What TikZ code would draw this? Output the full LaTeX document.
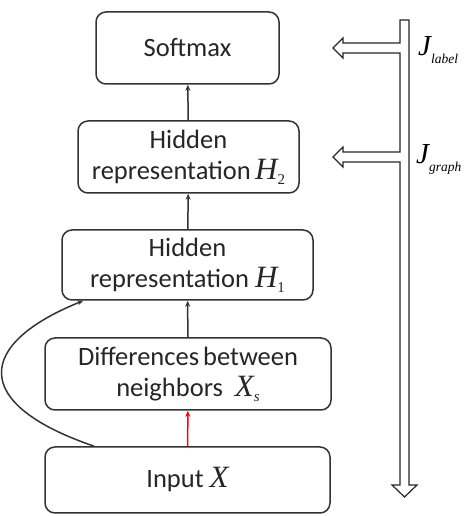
\documentclass[tikz,border=0pt]{standalone}
\usepackage{fontspec}
\setmainfont{Carlito}
\newfontfamily\tmfont{Liberation Serif}
\usetikzlibrary{arrows.meta}
\newcommand{\mvar}[2]{{\tmfont\itshape\fontsize{31}{31}\selectfont #1}\raisebox{-5pt}{\tmfont\fontsize{15}{15}\selectfont #2}}
\newcommand{\jvar}[1]{{\tmfont\itshape\fontsize{29}{29}\selectfont J}\raisebox{-8pt}{\tmfont\itshape\fontsize{13.5}{13.5}\selectfont #1}}
\begin{document}
\begin{tikzpicture}[x=1pt,y=1pt,
  blk/.style={draw=black!80, line width=1.5pt, rounded corners=10pt, fill=white,
    align=center, inner sep=0pt, text=black!85, font=\fontsize{26.5}{31}\selectfont},
  conn/.style={draw=black!80, line width=1.5pt, -{Stealth[length=6pt,width=5pt]}},
  hollow/.style={draw=black!85, line width=1.2pt, fill=white, line join=miter}]
\useasboundingbox (0,0) rectangle (475,516);
\node[blk, minimum width=183pt, minimum height=72pt] (soft) at (187.5,468) {Softmax};
\node[blk, minimum width=221pt, minimum height=72pt] (h2) at (188.5,359) {Hidden\\representation\,\mvar{H}{2}};
\node[blk, minimum width=251pt, minimum height=70pt] (h1) at (187.5,251) {Hidden\\representation \mvar{H}{1}};
\node[blk, minimum width=286pt, minimum height=72pt] (diff) at (188,142) {Differences\hspace{4pt}between\\neighbors \ \mvar{X}{\itshape s}};
\node[blk, minimum width=285pt, minimum height=66pt] (inp) at (187.5,36) {Input \mvar{X}{}};
\draw[conn] (h2) -- (soft);
\draw[conn] (h1) -- (h2);
\draw[conn] (diff) -- (h1);
\draw[conn, draw=red] (inp) -- (diff);
\draw[conn] ([xshift=50pt]inp.north west) .. controls (-30,112) and (-24,172) .. ([xshift=22pt]h1.south west);
% hollow feedback arrow
\draw[hollow] (400,496) -- (409,496) -- (409,31) -- (417,31) -- (404.5,19) -- (392,31) -- (400,31)
  -- (400,354) -- (343,354) -- (343,349) -- (333,359) -- (343,369) -- (343,364) -- (400,364)
  -- (400,463) -- (343,463) -- (343,458) -- (333,468) -- (343,478) -- (343,473) -- (400,473) -- cycle;
\node[anchor=west, inner sep=0pt] (jl) at (418,466) {\jvar{label}};
\node[anchor=west, inner sep=0pt] (jg) at (416,357) {\jvar{graph}};
\end{tikzpicture}
\end{document}
